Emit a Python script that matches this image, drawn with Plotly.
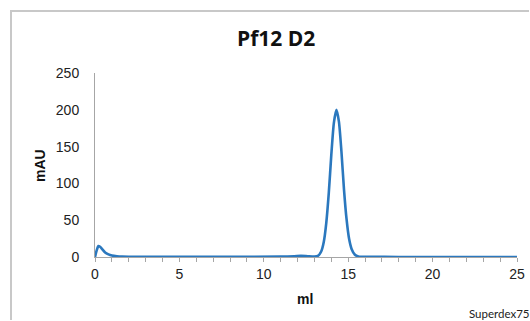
import plotly.graph_objects as go

volume_ml = [0, 0.1, 0.2, 0.3, 0.45, 0.6, 0.8, 1.0, 1.3, 1.6, 2.0, 3.0, 5.0, 8.0, 11.0,
             11.8, 12.2, 12.6, 13.0, 13.2, 13.4, 13.55, 13.7, 13.85, 14.0, 14.15, 14.3,
             14.45, 14.6, 14.75, 14.9, 15.05, 15.2, 15.4, 15.6, 15.8, 16.2, 18.0, 21.0, 25.0]
absorbance_mau = [0, 9, 15, 14, 10, 6, 3.5, 2, 1, 0.5, 0.3, 0.2, 0.2, 0.3, 0.5,
                  1, 1.5, 1, 0.6, 1.4, 7.5, 20, 46, 87, 139, 182, 200,
                  184, 143, 92, 52, 25, 11, 3, 0.8, 0.3, 0.2, 0.1, 0.1, 0.1]

x_ticks = [0, 5, 10, 15, 20, 25]
y_ticks = [0, 50, 100, 150, 200, 250]

title_text = "Pf12 D2"
x_title = "ml"
y_title = "mAU"
note_text = "Superdex75"

L, R, T, B = 95, 13, 73, 64
W, H = 530, 321
pw, ph = W - L - R, H - T - B

def px(x):
    return (x - L) / pw

def py(y):
    return (H - B - y) / ph

fig = go.Figure()
fig.add_trace(go.Scatter(x=volume_ml, y=absorbance_mau, mode="lines",
                         line=dict(color="#2b78be", width=2.6, shape="spline", smoothing=0.6),
                         showlegend=False, hoverinfo="skip"))

fig.update_layout(
    width=W, height=H,
    margin=dict(l=L, r=R, t=T, b=B, autoexpand=False),
    paper_bgcolor="white", plot_bgcolor="white",
    font=dict(family="Liberation Sans, Arial, sans-serif", color="#222222"),
    showlegend=False,
)
fig.update_xaxes(range=[0, 25], tickvals=x_ticks, ticktext=[str(v) for v in x_ticks],
                 showgrid=False, zeroline=False, showline=True, linecolor="#a6a6a6", linewidth=1,
                 ticks="outside", ticklen=4, tickcolor="#a6a6a6", tickfont=dict(size=14),
                 minor=dict(dtick=1, ticks="outside", ticklen=4, tickcolor="#a6a6a6"),
                 automargin=False, fixedrange=True)
fig.update_yaxes(range=[0, 250], tickvals=y_ticks, ticktext=[str(v) for v in y_ticks],
                 showgrid=False, zeroline=False, showline=True, linecolor="#a6a6a6", linewidth=1,
                 ticks="", tickfont=dict(size=14), ticklabelstandoff=12,
                 automargin=False, fixedrange=True)

# frame: left edge and top edge drawn as separate lines, kept inside the page
fig.add_shape(type="line", xref="paper", yref="paper",
              x0=px(11), x1=px(11), y0=py(H - 1), y1=py(10),
              line=dict(color="#c8c8c8", width=2), layer="above")
fig.add_shape(type="line", xref="paper", yref="paper",
              x0=px(10), x1=px(W - 1), y0=py(11), y1=py(11),
              line=dict(color="#c8c8c8", width=2), layer="above")

fig.add_annotation(text=f"<b>{title_text}</b>", xref="paper", yref="paper", x=px(276), y=py(38),
                   showarrow=False, font=dict(family="Open Sans, sans-serif", size=21, color="#111111"),
                   xanchor="center", yanchor="middle")
fig.add_annotation(text=f"<b>{y_title}</b>", xref="paper", yref="paper", x=px(40), y=py(165),
                   showarrow=False, textangle=-90, font=dict(size=14, color="#111111"),
                   xanchor="center", yanchor="middle")
fig.add_annotation(text=f"<b>{x_title}</b>", xref="paper", yref="paper", x=px(305), y=py(299),
                   showarrow=False, font=dict(size=14, color="#111111"),
                   xanchor="center", yanchor="middle")
fig.add_annotation(text=note_text, xref="paper", yref="paper", x=px(467), y=py(313),
                   showarrow=False, font=dict(family="Lato, Open Sans, sans-serif", size=11.5, color="#222222"),
                   xanchor="left", yanchor="middle")

fig.write_html("out.html", config={"displayModeBar": False},
               post_script="document.body.style.margin='0';document.body.style.overflow='hidden';")
